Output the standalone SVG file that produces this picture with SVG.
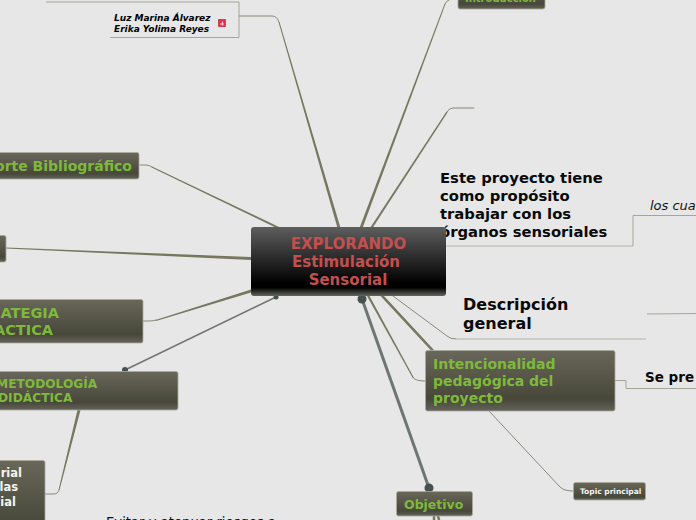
<svg xmlns="http://www.w3.org/2000/svg" width="696" height="520" viewBox="0 0 696 520">
<style>
text{font-family:"DejaVu Sans",sans-serif;font-weight:700}
.g{fill:#7fb93c}.w{fill:#f4f4f0}.k{fill:#0a0a0a}
.n{fill:url(#ng);stroke:#a9a99c;stroke-width:.8}
.c{fill:none;stroke:#88887a;stroke-width:1;stroke-linecap:round}
.f{fill:#77775f}
.u{fill:none;stroke:#c4c4bc;stroke-width:1.5}
.t{fill:none;stroke:#a5a597;stroke-width:1}
.d{fill:#46504f}
</style>
<defs>
<linearGradient id="ng" x1="0" y1="0" x2="0" y2="1"><stop offset="0" stop-color="#69675a"/><stop offset=".8" stop-color="#47473a"/><stop offset="1" stop-color="#63635a"/></linearGradient>
<linearGradient id="cg" x1="0" y1="0" x2="0" y2="1"><stop offset="0" stop-color="#5e5e5e"/><stop offset=".82" stop-color="#000"/><stop offset=".88" stop-color="#000"/><stop offset="1" stop-color="#66665e"/></linearGradient>
</defs>
<rect width="696" height="520" fill="#e7e7e7"/>
<g id="connectors">
<path class="c" d="M239 16H272Q277 16 279 22"/>
<polygon class="f" points="278.500,22 279.500,22 340.500,228 337.500,228"/>
<path class="c" d="M449 0Q446 1 445 4"/>
<polygon class="f" points="444.500,4 445.500,4 362.500,228 359.500,228"/>
<path class="c" d="M474 108H453Q449 108 447 112"/>
<polygon class="f" points="446.500,111.500 447.500,112.500 372.500,228 370,228"/>
<path class="c" d="M140 165H146Q149 165 152 167"/>
<polygon class="f" points="152,166.600 151.600,167.400 277.500,228.500 279,227"/>
<polygon class="f" points="6,247.500 6,248.500 251,260 251,257"/>
<path class="c" d="M143 321H150Q153 321 156 320"/>
<polygon class="f" points="155.500,320 156,321 251,292.500 251,289.500"/>
<path d="M125 370L276 297" fill="none" stroke="#70756f" stroke-width="1.500"/>
<path class="c" d="M45 494H54Q58 494 59 490"/>
<polygon class="f" points="58.500,490 59.500,490 80.500,410 77.500,410"/>
<path d="M362 299L429 488" fill="none" stroke="#6e7674" stroke-width="3"/>
<path class="c" d="M393 296L447 336Q450 339 456 339"/>
<polygon class="f" points="367,296 369.500,296 414,378 413,378.500"/>
<path class="c" d="M413.500 378Q415.500 381 425 381"/>
<polygon class="f" points="380.500,296 384,296 434,350 431.500,351"/>
<path class="c" d="M489 411L560 487Q564 491 573 491"/>
<path class="c" style="stroke:#77775f;stroke-width:2.500" d="M434 516V520M438 516L439 520"/>
<path class="u" d="M456 339H646"/>
<path class="u" d="M446 246H633"/>
<path class="t" d="M633 246V215.500H696"/>
<path class="t" stroke-width="1.300" d="M647 314L696 313.500"/>
<path class="t" d="M615 380.500H626V388.500H696"/>
<path class="t" d="M46 2H239V37.500H110"/>
<circle class="d" cx="125" cy="370" r="3"/>
<circle class="d" cx="276" cy="297" r="2.500"/>
<circle class="d" cx="362" cy="299" r="4.500"/>
<circle class="d" cx="429" cy="488" r="4.500"/>
</g>
<g id="node-autoras">
<text font-size="9" font-style="italic" x="114" y="21">Luz Marina Álvarez</text>
<text font-size="9" font-style="italic" x="114" y="32">Erika Yolima Reyes</text>
<rect x="218" y="19" width="8" height="8" rx="1" fill="#d8384f"/>
<path d="M220 24h4M222.500 21.500v4" stroke="#f6c4cc" stroke-width="1.200"/>
</g>
<g id="node-introduccion">
<rect class="n" x="458" y="-16" width="87" height="25" rx="2"/>
<text class="g" font-size="10" x="465" y="2">Introducción</text>
</g>
<g id="node-proposito">
<text class="k" font-size="14.800" x="440" y="183">Este proyecto tiene</text>
<text class="k" font-size="14.800" x="440" y="201">como propósito</text>
<text class="k" font-size="14.800" x="440" y="219">trabajar con los</text>
<text class="k" font-size="14.800" x="440" y="237">órganos sensoriales</text>
</g>
<g id="node-cuales"><text font-size="13" style="font-weight:400" font-style="italic" fill="#111" x="650" y="210">los cua</text></g>
<g id="node-soporte">
<rect class="n" x="-60" y="152.500" width="199" height="26.500" rx="2"/>
<text class="g" font-size="14" text-anchor="end" x="132" y="171">orte Bibliográfico</text>
</g>
<g id="node-izquierdo"><rect class="n" x="-40" y="235.500" width="46" height="26.500" rx="2"/></g>
<g id="node-estrategia">
<rect class="n" x="-60" y="299.500" width="203" height="43.500" rx="2"/>
<text class="g" font-size="14.500" x="0.500" y="318">ATEGIA</text>
<text class="g" font-size="14.500" x="-6" y="335">ACTICA</text>
</g>
<g id="node-metodologia">
<rect class="n" x="-40" y="371.500" width="218" height="38.500" rx="2"/>
<text class="g" font-size="12.200" x="-4" y="388">METODOLOGÍA</text>
<text class="g" font-size="12.200" x="-2" y="402">DIDÁCTICA</text>
</g>
<g id="node-material">
<rect class="n" x="-40" y="460.500" width="85" height="80" rx="2"/>
<text class="w" font-size="11.500" text-anchor="end" x="22" y="477">rial</text>
<text class="w" font-size="11.500" text-anchor="end" x="18" y="491">las</text>
<text class="w" font-size="11.500" text-anchor="end" x="16" y="506">ial</text>
</g>
<g id="node-evitar"><text font-size="13.200" style="font-weight:400" fill="#111" x="106" y="526.500">Evitar y atenuar riesgos a</text></g>
<g id="node-central">
<rect x="251" y="227" width="195" height="69" rx="3" fill="url(#cg)"/>
<g fill="#c44f4f" font-size="15" text-anchor="middle">
<text x="348.500" y="249">EXPLORANDO</text>
<text x="346" y="267">Estimulación</text>
<text x="348" y="285">Sensorial</text>
</g>
</g>
<g id="node-descripcion">
<text class="k" font-size="16" x="463" y="310">Descripción</text>
<text class="k" font-size="16" x="463" y="329">general</text>
</g>
<g id="node-intencionalidad">
<rect class="n" x="425.500" y="350.500" width="189.500" height="60.500" rx="2"/>
<text class="g" font-size="14" x="433" y="369">Intencionalidad</text>
<text class="g" font-size="14" x="433" y="386">pedagógica del</text>
<text class="g" font-size="14" x="433" y="403">proyecto</text>
</g>
<g id="node-sepre"><text class="k" font-size="13.500" x="645" y="382">Se pre</text></g>
<g id="node-topic">
<rect class="n" x="573.500" y="482.500" width="72" height="17.500" rx="2"/>
<text class="w" font-size="7.500" x="580" y="494">Topic principal</text>
</g>
<g id="node-objetivo">
<rect class="n" x="396.500" y="491.500" width="76" height="24.500" rx="2"/>
<text class="g" font-size="12.500" x="404" y="509">Objetivo</text>
</g>
</svg>
